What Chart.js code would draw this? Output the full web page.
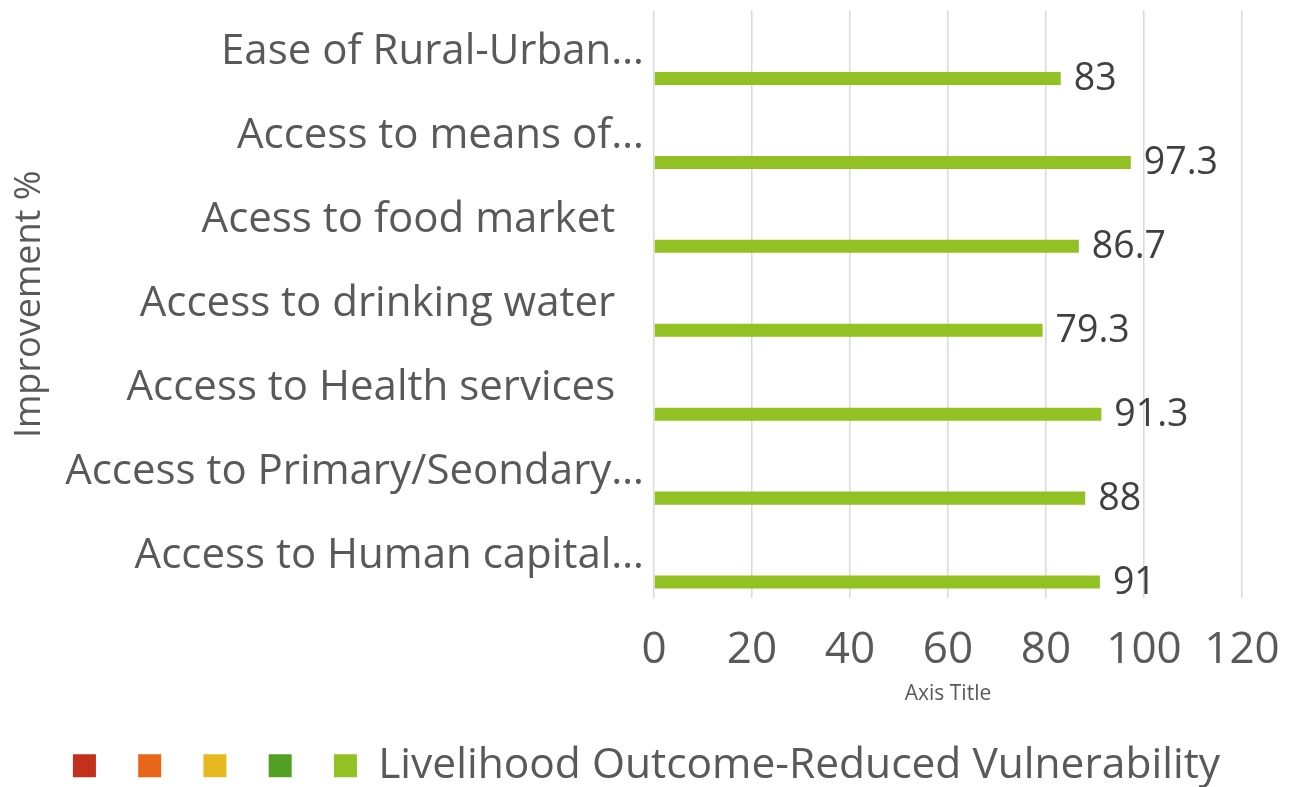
<!DOCTYPE html>
<html>
<head>
<meta charset="utf-8">
<script src="https://cdn.jsdelivr.net/npm/chart.js@4/dist/chart.umd.min.js"></script>
<style>
  html, body { margin: 0; padding: 0; background: #ffffff; }
  #wrap { width: 1293px; height: 787px; position: relative; }
</style>
</head>
<body>
<div id="wrap"><canvas id="c" width="1293" height="787"></canvas></div>
<script>
// ---- data ----
const categories = [
  "Ease of Rural-Urban\u2026",
  "Access to means of\u2026",
  "Acess to food market  \u2009",
  "Access to drinking water  \u2009",
  "Access to Health services  \u2009",
  "Access to Primary/Seondary\u2026",
  "Access to Human capital\u2026"
];
const reducedVulnerability = [83, 97.3, 86.7, 79.3, 91.3, 88, 91];
const seriesNames = ["", "", "", "", "Livelihood Outcome-Reduced Vulnerability"];
const seriesColors = ["#C3311C", "#E8661A", "#E7B921", "#53A024", "#92C123"];
const xTickValues = [0, 20, 40, 60, 80, 100, 120];
const xAxisTitle = "Axis Title";
const yAxisTitle = "Improvement %";

const FONT = "'Open Sans', 'DejaVu Sans', sans-serif";

const seriesData = [[], [], [], [], reducedVulnerability];

const datasets = seriesNames.map((name, i) => ({
  label: name,
  data: seriesData[i],
  backgroundColor: seriesColors[i],
  borderWidth: 0,
  categoryPercentage: 0.775,
  barPercentage: 1.0
}));

const valueLabels = {
  id: 'valueLabels',
  afterDatasetsDraw(chart) {
    const ctx = chart.ctx;
    ctx.save();
    ctx.font = "37.5px " + FONT;
    ctx.fillStyle = "#404040";
    ctx.textAlign = "left";
    ctx.textBaseline = "middle";
    chart.data.datasets.forEach((ds, di) => {
      const meta = chart.getDatasetMeta(di);
      meta.data.forEach((el, idx) => {
        const v = ds.data[idx];
        if (v === null || v === undefined) return;
        ctx.fillText(String(v), el.x + 13, el.y + 1);
      });
    });
    ctx.restore();
  }
};

new Chart(document.getElementById('c'), {
  type: 'bar',
  data: { labels: categories, datasets: datasets },
  options: {
    indexAxis: 'y',
    responsive: false,
    animation: false,
    layout: { padding: { left: 51, right: 51, top: 10, bottom: -10 } },
    plugins: {
      legend: {
        position: 'bottom',
        align: 'center',
        labels: {
          boxWidth: 23,
          boxHeight: 23,
          padding: 21,
          color: '#595959',
          font: { family: FONT, size: 42.5 }
        }
      },
      tooltip: { enabled: false }
    },
    scales: {
      x: {
        min: 0,
        max: 120,
        afterBuildTicks(scale) { scale.ticks = xTickValues.map(v => ({ value: v })); },
        afterFit(scale) { scale.height = 125.5; },
        ticks: {
          autoSkip: false,
          maxRotation: 0,
          padding: 0,
          color: '#595959',
          font: { family: FONT, size: 44, lineHeight: '104px' }
        },
        grid: { color: '#D9D9D9', lineWidth: 1.5, drawTicks: false },
        border: { display: false },
        title: {
          display: true,
          text: xAxisTitle,
          color: '#595959',
          font: { family: FONT, size: 21 },
          padding: { top: 0, bottom: 16.9 }
        }
      },
      y: {
        afterFit(scale) { scale.width = 603; },
        ticks: {
          autoSkip: false,
          padding: 10,
          color: '#595959',
          font: { family: FONT, size: 42, lineHeight: '1px' }
        },
        grid: { display: false, drawTicks: false },
        border: { display: false },
        title: {
          display: true,
          text: yAxisTitle,
          color: '#595959',
          font: { family: FONT, size: 36 },
          padding: { top: -43, bottom: 0 }
        }
      }
    }
  },
  plugins: [valueLabels]
});
</script>
</body>
</html>
